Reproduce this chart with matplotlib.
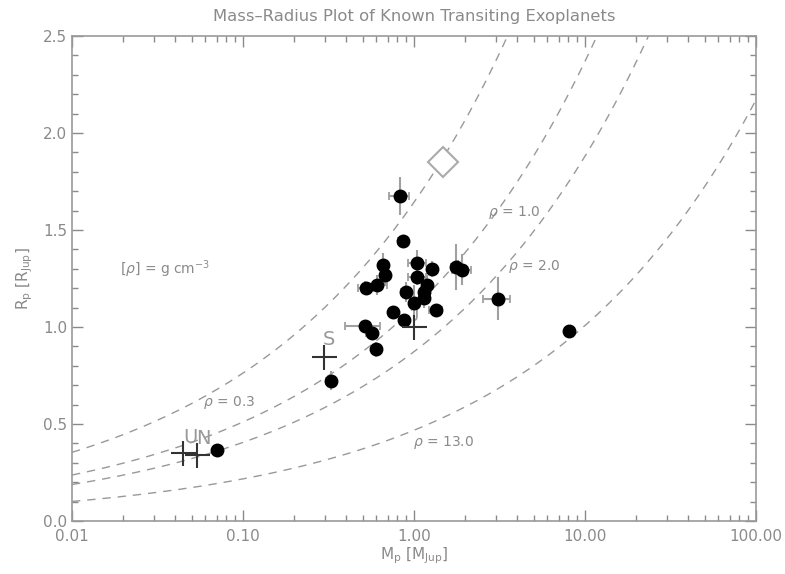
import numpy as np
import matplotlib
matplotlib.use("Agg")
import matplotlib.pyplot as plt
from matplotlib.ticker import FixedLocator, FixedFormatter, MultipleLocator, LogLocator, NullFormatter

# ---- data ----
mass = [0.828, 0.859, 0.655, 0.676, 1.048, 1.28, 1.75, 1.91, 0.523, 0.605,
        1.048, 1.186, 0.893, 1.14, 1.143, 1.0, 0.752, 1.34, 0.871, 0.516,
        0.567, 0.598, 0.327, 3.09, 8.03, 0.070]
mass_err = [0.11, 0.05, 0.03, 0.03, 0.13, 0.06, 0.10, 0.25, 0.05, 0.09,
            0.12, 0.05, 0.05, 0.04, 0.05, 0.04, 0.03, 0.12, 0.04, 0.12,
            0.04, 0.03, 0.02, 0.55, 0.40, 0.003]
radius = [1.675, 1.442, 1.320, 1.268, 1.328, 1.298, 1.309, 1.294, 1.203, 1.216,
          1.259, 1.219, 1.180, 1.178, 1.150, 1.126, 1.079, 1.088, 1.035, 1.006,
          0.967, 0.885, 0.724, 1.146, 0.978, 0.366]
radius_err = [0.10, 0.03, 0.06, 0.05, 0.07, 0.04, 0.12, 0.08, 0.03, 0.05,
              0.04, 0.05, 0.05, 0.04, 0.05, 0.09, 0.03, 0.03, 0.03, 0.02,
              0.03, 0.04, 0.05, 0.11, 0.02, 0.01]

solar_names = ["J", "S", "U", "N"]
solar_mass = [1.0, 0.299, 0.0446, 0.054]
solar_radius = [1.0, 0.843, 0.35, 0.34]

diamond_mass = [1.48]
diamond_radius = [1.85]

densities = [0.3, 1.0, 2.0, 13.0]
rho_jup = 1.33

xticks = [0.01, 0.1, 1.0, 10.0, 100.0]
xticklabels = ["0.01", "0.10", "1.00", "10.00", "100.00"]
yticks = [0.0, 0.5, 1.0, 1.5, 2.0, 2.5]
yticklabels = ["0.0", "0.5", "1.0", "1.5", "2.0", "2.5"]

grey = "#8a8a8a"

fig = plt.figure(figsize=(7.85, 5.74), dpi=100)
ax = fig.add_axes([72/785, 1-521/574, (756-72)/785, (521-36)/574])
ax.set_xscale("log")
ax.set_xlim(0.01, 100)
ax.set_ylim(0, 2.5)

# density curves
mgrid = np.logspace(-2, 2, 400)
for rho in densities:
    r = (mgrid * rho_jup / rho) ** (1/3)
    ax.plot(mgrid, r, ls=(0, (6, 5)), color="#999999", lw=1.0, zorder=1)

# data points: horizontal bars with caps, vertical bars without
ax.errorbar(mass, radius, xerr=mass_err, fmt="none", ecolor="#a0a0a0",
            elinewidth=1.5, capsize=3, capthick=1.3, zorder=2)
ax.errorbar(mass, radius, yerr=radius_err, fmt="none", ecolor="#a0a0a0",
            elinewidth=1.5, capsize=0, zorder=2)
ax.plot(mass, radius, "o", color="black", ms=9, zorder=3)

# solar system planets
ax.plot(solar_mass, solar_radius, "+", color="#333333", ms=18, mew=1.5, zorder=4)
label_pos = {"J": (1.04, 1.08), "S": (0.318, 0.933), "U": (0.049, 0.428), "N": (0.059, 0.423)}
for nm in solar_names:
    lx, ly = label_pos[nm]
    ax.text(lx, ly, nm, color="#999999", fontsize=14, ha="center", va="center", zorder=2)

ax.plot(diamond_mass, diamond_radius, "D", mfc="white", mec="#aaaaaa", mew=1.5, ms=15, zorder=2)

# density labels
ax.text(0.058, 0.613, r"$\rho$ = 0.3", color=grey, fontsize=10, va="center")
ax.text(2.71, 1.588, r"$\rho$ = 1.0", color=grey, fontsize=10, va="center")
ax.text(3.55, 1.311, r"$\rho$ = 2.0", color=grey, fontsize=10, va="center")
ax.text(0.986, 0.407, r"$\rho$ = 13.0", color=grey, fontsize=10, va="center")
ax.text(0.0191, 1.30, r"[$\rho$] = g cm$^{-3}$", color=grey, fontsize=10, va="center")

# axes styling
ax.xaxis.set_major_locator(FixedLocator(xticks))
ax.xaxis.set_major_formatter(FixedFormatter(xticklabels))
ax.xaxis.set_minor_locator(LogLocator(base=10, subs=np.arange(2, 10), numticks=20))
ax.xaxis.set_minor_formatter(NullFormatter())
ax.yaxis.set_major_locator(FixedLocator(yticks))
ax.yaxis.set_major_formatter(FixedFormatter(yticklabels))
ax.yaxis.set_minor_locator(MultipleLocator(0.1))
ax.tick_params(which="both", direction="in", top=True, right=True, colors=grey,
               labelcolor=grey, labelsize=11)
ax.tick_params(which="major", length=8, width=1)
ax.tick_params(which="minor", length=4, width=1)
ax.tick_params(axis="x", pad=6)
for sp in ax.spines.values():
    sp.set_color("#999999")
    sp.set_linewidth(1.2)

ax.set_xlabel(r"M$_\mathrm{p}$ [M$_\mathrm{Jup}$]", color=grey, fontsize=11, labelpad=1)
ax.set_ylabel(r"R$_\mathrm{p}$ [R$_\mathrm{Jup}$]", color=grey, fontsize=11, labelpad=6)
ax.set_title("Mass\u2013Radius Plot of Known Transiting Exoplanets", color=grey,
             fontsize=11.8, pad=11)

fig.savefig("out.png", dpi=100)
